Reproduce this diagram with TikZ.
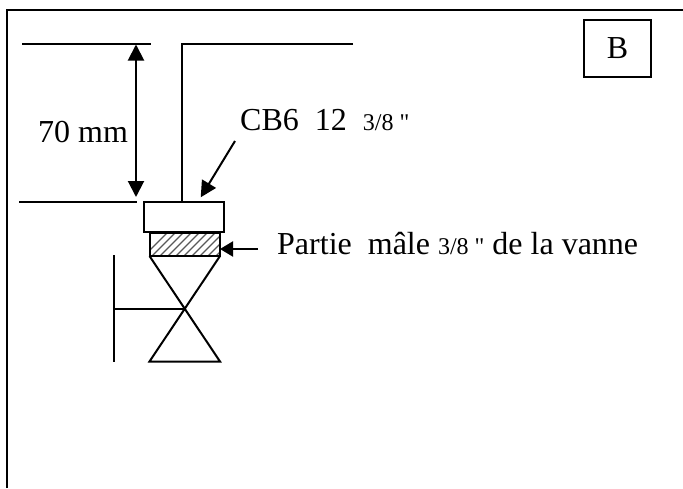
\documentclass[tikz,border=0pt]{standalone}
\usepackage{fontspec}
\setmainfont{Liberation Serif}[Ligatures=TeXOff]
\usetikzlibrary{arrows.meta}
\tikzset{
  ln/.style={line width=2pt,black,line cap=butt},
  arr/.style={ln,-{Triangle[length=16pt,width=16pt]}},
  arrs/.style={ln,-{Triangle[length=13pt,width=15pt]}},
  lbl/.style={inner sep=0pt,anchor=base west,font=\fontsize{32}{36}\selectfont}
}
\newcommand{\smalltxt}[1]{{\fontsize{24}{28}\selectfont #1}}
\begin{document}
\begin{tikzpicture}[x=1pt,y=-1pt]
\useasboundingbox (0,0) rectangle (683,488);
% frame
\coordinate (fb) at (7,488); \coordinate (ftl) at (7,9.5); \coordinate (fr) at (683,9.5);
\draw[ln] (fb) -- (ftl) -- (fr);
% B box
\node[draw,ln,minimum width=67pt,minimum height=57.5pt,inner sep=0pt,font=\fontsize{32}{36}\selectfont] (B) at (617.5,48.5) {B\hspace{6pt}};
% dimension lines
\coordinate (d1a) at (22,43.5); \coordinate (d1b) at (151,43.5);
\coordinate (d2a) at (19,201.5); \coordinate (d2b) at (136.5,201.5);
\draw[ln] (d1a) -- (d1b);
\draw[ln] (d2a) -- (d2b);
\coordinate (dimt) at (136,44.5); \coordinate (dimb) at (136,197);
\coordinate (dimm) at (136,120);
\draw[arr] (dimm) -- (dimt);
\draw[arr] (dimm) -- (dimb);
\node[lbl] (dim) at (38,142) {70 mm};
% pipe
\coordinate (pe) at (353,43.5); \coordinate (pc) at (182,43.5);
% CB6 fitting
\node[draw,ln,minimum width=80.5pt,minimum height=30.5pt,inner sep=0pt] (cb) at (184,217) {};
\draw[ln] (pe) -- (pc) -- (182,201.5);
% male part
\coordinate (h1) at (149.5,233); \coordinate (h2) at (220,256);
\begin{scope}
\clip (h1) rectangle (h2);
\foreach \i in {0,8,...,104}
  \draw[line width=1.4pt,black!65] (140+\i,260) -- (140+\i+30,230);
\end{scope}
\draw[ln] (h1) rectangle (h2);
% valve
\coordinate (vtl) at (149.5,256); \coordinate (vtr) at (220,256);
\coordinate (vbl) at (149.5,361.5); \coordinate (vbr) at (220,361.5);
\coordinate (vc) at (184.75,308.75);
\draw[ln,line join=miter] (vtl) -- (vbr) -- (vbl) -- (vtr);
% handle
\coordinate (ht) at (114,255); \coordinate (hb) at (114,362); \coordinate (hm) at (114,308.75);
\draw[ln] (ht) -- (hb);
\draw[ln] (hm) -- (vc);
% labels and leaders
\node[lbl] (t1) at (240,130) {CB6\hspace{8pt} 12\hspace{8pt} \smalltxt{3/8 \symbol{34}}};
\coordinate (a1) at (235,141); \coordinate (a1t) at (200.7,197.3);
\draw[arr] (a1) -- (a1t);
\node[lbl] (t2) at (277,254) {Partie\hspace{8pt} mâle \smalltxt{3/8 \symbol{34}} de la vanne};
\coordinate (a2) at (258,249); \coordinate (a2t) at (220,249);
\draw[arrs] (a2) -- (a2t);
\end{tikzpicture}
\end{document}
